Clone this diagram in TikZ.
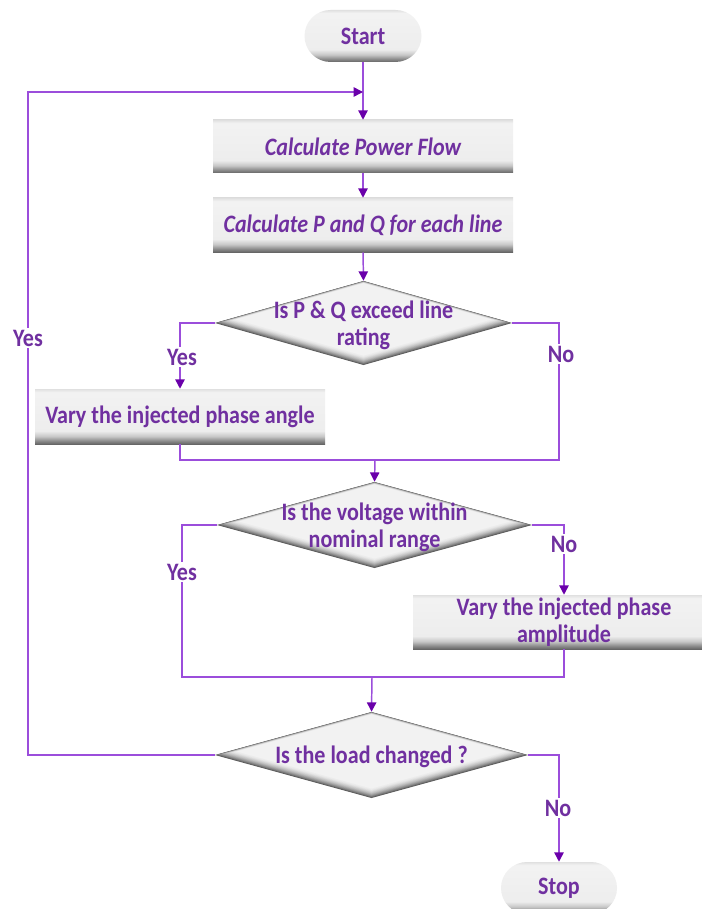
\documentclass[tikz,border=0pt]{standalone}
\usepackage{fontspec}
\setmainfont{Carlito}[FakeStretch=0.88]
\usetikzlibrary{arrows.meta,shapes.geometric,calc}
\definecolor{txtc}{HTML}{7030A0}
\definecolor{linec}{HTML}{9B4DDB}
\definecolor{arrc}{HTML}{6A00AA}
\newdimen\pxu \pxu=0.75pt
\pgfdeclareverticalshading{boxsh}{100bp}{color(0bp)=(black!60); color(25bp)=(black!60); color(28bp)=(black!45); color(32bp)=(black!22); color(37bp)=(black!7); color(72bp)=(black!5); color(75bp)=(black!12); color(100bp)=(black!12)}
\newcommand{\bevdia}[4]{%
  \foreach \k in {0,...,16}{%
    \pgfmathsetmacro{\bvR}{1-0.16*\k/16}%
    \pgfmathsetmacro{\bvS}{4*\k/16}%
    \pgfmathtruncatemacro{\bvP}{5+60*(1-\k/16)^2}%
    \fill[black!\bvP] ({#1-\bvR*#3},{#2-\bvS}) -- ({#1},{#2-\bvS-\bvR*#4}) -- ({#1+\bvR*#3},{#2-\bvS}) -- ({#1},{#2-\bvS+\bvR*#4}) -- cycle;
  }}
\tikzset{
  tfont/.style={font=\bfseries\fontsize{18.8}{20}\selectfont, text=txtc},
  itfont/.style={font=\bfseries\itshape\fontsize{18.8}{20}\selectfont},
  box/.style={rectangle, shading=boxsh, minimum width=300\pxu, minimum height=53\pxu, inner sep=0pt, align=center, tfont},
  pill/.style={rectangle, rounded corners=26\pxu, shading=boxsh, minimum width=117\pxu, minimum height=52\pxu, inner sep=0pt, tfont},
  dia/.style={diamond, inner sep=0pt, draw=none},
  dtext/.style={tfont, align=center, inner sep=0pt, yshift=-2\pxu},
  ln/.style={draw=linec, line width=1.1pt},
  conn/.style={ln, -{Triangle[length=7pt,width=7pt,color=arrc]}},
  lbl/.style={fill=white, tfont, inner sep=1.5pt}
}
\begin{document}
\begin{tikzpicture}[x=0.75pt,y=-0.75pt]
\useasboundingbox[fill=white] (0,0) rectangle (702,909);
% diamond bevel fills
\bevdia{363.5}{323}{148.5}{42}
\bevdia{374.5}{525}{157.5}{43}
\bevdia{371.5}{755}{156.5}{43}
% nodes
\node[pill] (start) at (363,36) {Start};
\node[box, itfont] (pf) at (363,146.5) {Calculate Power Flow};
\node[box, itfont, minimum height=54\pxu] (pq) at (363,225) {Calculate P and Q for each line};
\node[dia, minimum width=297\pxu, minimum height=84\pxu, label={[dtext]center:{Is P \& Q exceed line\\rating}}] (d1) at (363.5,323) {};
\node[box, minimum width=290\pxu, minimum height=55\pxu] (va) at (180,416.5) {Vary the injected phase angle};
\node[dia, minimum width=315\pxu, minimum height=86\pxu, label={[dtext]center:{Is the voltage within\\nominal range}}] (d2) at (374.5,525) {};
\node[box, minimum width=302\pxu, minimum height=54\pxu] (vamp) at (564,622) {Vary the injected phase\\amplitude};
\node[dia, minimum width=313\pxu, minimum height=86\pxu, label={[dtext]center:{Is the load changed ?}}] (d3) at (371.5,755) {};
\node[pill, minimum width=116\pxu] (stop) at (559,888) {Stop};
% helper coordinates
\coordinate (lc) at (28,92);
\coordinate (j1) at (363,92);
\coordinate (r1) at (559,460);
\coordinate (m1) at (375,460);
\coordinate (l2) at (182,677);
\coordinate (m2) at (372,677);
% connectors
\draw[conn] (start.south) -- (pf.north);
\draw[conn] (d3.west) -| (lc) -- (j1);
\draw[conn] (pf.south) -- (pq.north);
\draw[conn] (pq.south) -- (d1.north);
\draw[conn] (d1.west) -| (va.north);
\draw[ln] (d1.east) -| (r1) -- (m1);
\draw[ln] (va.south) |- (m1);
\draw[conn] (m1) -- (d2.north);
\draw[ln] (d2.west) -| (l2) -- (m2);
\draw[conn] (d2.east) -| (vamp.north);
\draw[ln] (vamp.south) |- (m2);
\draw[conn] (m2) -- (d3.north);
\draw[conn] (d3.east) -| (stop.north);
% labels
\node[lbl] (y1) at (182,357) {Yes};
\node[lbl] (n1) at (561,354) {No};
\node[lbl] (y2) at (182,572) {Yes};
\node[lbl] (n2) at (564,544) {No};
\node[lbl] (y3) at (28,338) {Yes};
\node[lbl] (n3) at (558,808) {No};
\end{tikzpicture}
\end{document}
